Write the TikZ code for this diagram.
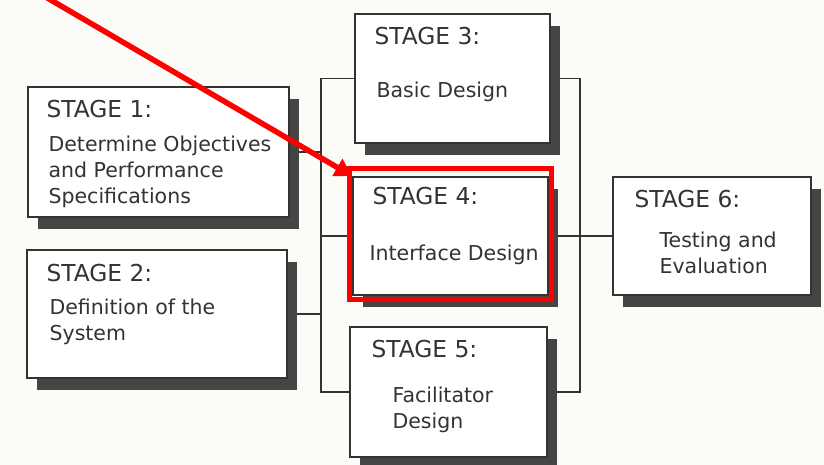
\documentclass[tikz,border=0pt]{standalone}
\usepackage{fontspec}
\setmainfont{DejaVu Sans}
\usepackage{tikz}
\usetikzlibrary{positioning, arrows.meta, calc, shadows, backgrounds}
\definecolor{inkgray}{HTML}{333333}
\definecolor{shadowgray}{HTML}{454545}
\definecolor{markred}{HTML}{FF0000}
\definecolor{paper}{HTML}{FBFBF8}
\tikzset{
  stage box/.style  = {draw=inkgray, line width=1.2pt, fill=white, inner sep=0pt,
                       drop shadow={shadow xshift=10pt, shadow yshift=-12pt,
                                    fill=shadowgray, opacity=1}},
  stage head/.style = {anchor=base west, inner sep=0pt, text=inkgray,
                       font=\fontsize{23.3}{28}\selectfont},
  % multi-line texts: anchored at the baseline of their last line
  stage text/.style = {anchor=base west, inner sep=0pt, align=left, text=inkgray,
                       font=\fontsize{20.5}{26}\selectfont},
  link/.style       = {inkgray, line width=1.3pt},
  highlight/.style  = {draw=markred, line width=5pt},
  pointer/.style    = {markred, line width=5.5pt,
                       -{Triangle[length=17pt, width=19pt]}},
}

\begin{document}
\begin{tikzpicture}[x=1pt, y=-1pt]
\useasboundingbox (0,0) rectangle (824,465);
\clip (0,0) rectangle (824,465);

% ---------------------------------------------------------------
% The six stage boxes
% ---------------------------------------------------------------
\node[stage box, minimum width=261pt, minimum height=130pt] (s1) at (158.5,152) {};
\node[stage box, minimum width=260pt, minimum height=128pt] (s2) at (157,314)   {};
\node[stage box, minimum width=195pt, minimum height=129pt] (s3) at (452.5,78.5) {};
\node[stage box, minimum width=195pt, minimum height=118pt] (s4) at (450.5,236) {};
\node[stage box, minimum width=197pt, minimum height=130pt] (s5) at (448.5,392) {};
\node[stage box, minimum width=198pt, minimum height=118pt] (s6) at (712,236)   {};

% Box texts
\node[stage head] (h1) at ($(s1.north west)+(19,31)$) {STAGE 1:};
\node[stage text] (t1) at ($(s1.north west)+(21,117)$)
      {Determine Objectives\\and Performance\\Specifications};
\node[stage head] (h2) at ($(s2.north west)+(20,32)$) {STAGE 2:};
\node[stage text] (t2) at ($(s2.north west)+(23,91)$) {Definition of the\\System};
\node[stage head] (h3) at ($(s3.north west)+(20,31)$) {STAGE 3:};
\node[stage text] (t3) at ($(s3.north west)+(22,84)$) {Basic Design};
\node[stage head] (h4) at ($(s4.north west)+(20,28)$) {STAGE 4:};
\node[stage text] (t4) at ($(s4.north west)+(17,84)$) {Interface Design};
\node[stage head] (h5) at ($(s5.north west)+(22,31)$) {STAGE 5:};
\node[stage text] (t5) at ($(s5.north west)+(43,102)$) {Facilitator\\Design};
\node[stage head] (h6) at ($(s6.north west)+(22,31)$) {STAGE 6:};
\node[stage text] (t6) at ($(s6.north west)+(47,97)$) {Testing and\\Evaluation};

% ---------------------------------------------------------------
% Connectors (behind the boxes)
% ---------------------------------------------------------------
\coordinate (lbus) at (321,78);
\coordinate (rbus) at (580,78);
\begin{scope}[on background layer]
  \fill[paper] (0,0) rectangle (824,465);
  % left bus
  \draw[link] (s3.west) -- (s3.west -| lbus) |- (s5.west);
  \draw[link] (s1.east) -- (s1.east -| lbus);
  \draw[link] (s2.east) -- (s2.east -| lbus);
  \draw[link] (s4.west) -- (s4.west -| lbus);
  % right bus
  \draw[link] (s3.east) -- (s3.east -| rbus) |- (s5.east);
  \draw[link] (s4.east) -- (s6.west);
\end{scope}

% ---------------------------------------------------------------
% Red highlight on stage 4
% ---------------------------------------------------------------
\draw[highlight] ($(s4.north west)+(-2.5,-7.5)$) rectangle ($(s4.south east)+(3,4)$);
\coordinate (ptr tail) at (44,-4);
\coordinate (ptr tip)  at (352,176);
\draw[pointer] (ptr tail) -- (ptr tip);

\end{tikzpicture}
\end{document}
